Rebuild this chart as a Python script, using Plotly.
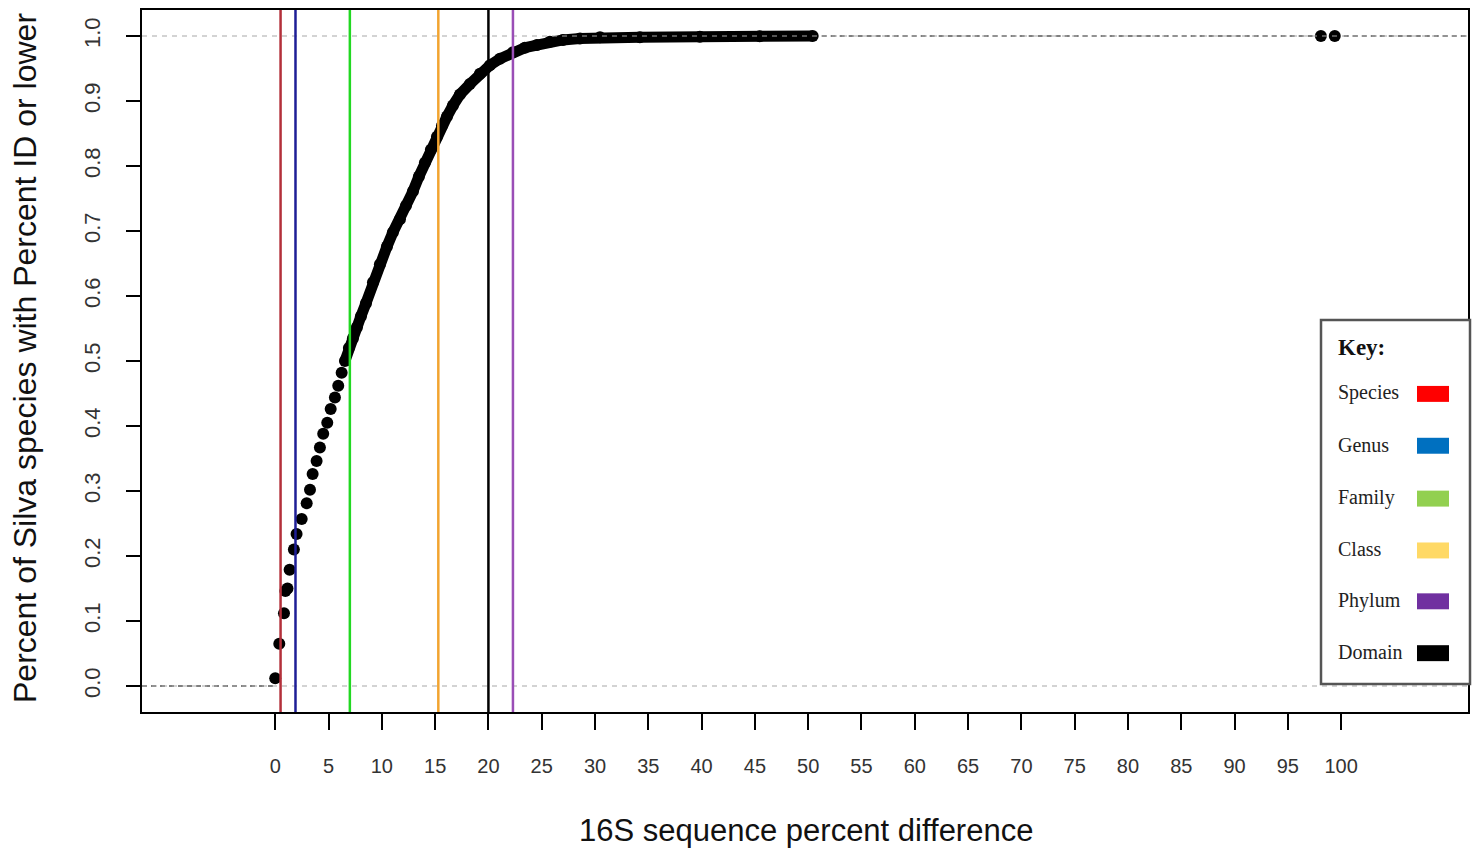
import plotly.graph_objects as go

# ---------------- data ----------------
# discrete ECDF points (individually visible)
x_steps = [0.0, 0.38, 0.82, 0.95, 1.15, 1.35, 1.75, 2.0, 2.48, 2.95, 3.26, 3.51,
           3.88, 4.19, 4.50, 4.88, 5.20, 5.60, 5.91, 6.23]
y_steps = [0.012, 0.065, 0.112, 0.146, 0.150, 0.179, 0.210, 0.234, 0.257, 0.281,
           0.302, 0.326, 0.346, 0.367, 0.388, 0.405, 0.426, 0.444, 0.462, 0.482]

# dense part of the ECDF (points overlap into a continuous band)
x_dense = [6.54, 6.91, 7.29, 7.66, 8.04, 8.51, 9.17, 9.82, 10.48, 11.04, 11.70,
           12.26, 12.92, 13.48, 14.04, 14.60, 15.17, 15.64, 16.11, 16.67, 17.33,
           18.26, 19.20, 20.14, 21.08, 22.30, 23.42, 24.55, 25.77, 26.99, 28.59,
           30.47, 34.21, 39.84, 45.45, 50.42]
y_dense = [0.500, 0.520, 0.535, 0.552, 0.569, 0.589, 0.621, 0.649, 0.676, 0.698,
           0.718, 0.739, 0.761, 0.784, 0.805, 0.825, 0.845, 0.862, 0.876, 0.893,
           0.910, 0.926, 0.942, 0.955, 0.965, 0.975, 0.982, 0.986, 0.991, 0.994,
           0.996, 0.998, 0.998, 0.999, 0.9995, 1.0]

# isolated points near 100
x_far = [98.1, 99.4]
y_far = [1.0, 1.0]

# threshold lines
line_x = [0.5, 1.9, 7.0, 15.3, 20.0, 22.3]
line_colors = ["#B3303A", "#1E1E96", "#22D822", "#F2A430", "#000000", "#9A4EB6"]

# key (legend image)
key_labels = ["Species", "Genus", "Family", "Class", "Phylum", "Domain"]
key_colors = ["#FF0000", "#0070C0", "#92D050", "#FFD966", "#7030A0", "#000000"]

x_ticks = list(range(0, 101, 5))
y_ticks = [0.0, 0.1, 0.2, 0.3, 0.4, 0.5, 0.6, 0.7, 0.8, 0.9, 1.0]
y_tick_text = ["0.0", "0.1", "0.2", "0.3", "0.4", "0.5", "0.6", "0.7", "0.8", "0.9", "1.0"]

X_RANGE = [-12.5, 111.9]
Y_RANGE = [-0.04, 1.04]

# ---------------- layout geometry (pixels) ----------------
W, H = 1481, 852
PL, PR, PT, PB = 142, 1468, 8, 712


def px(x):
    return (x - PL) / (PR - PL)


def py(y):
    return (PB - y) / (PB - PT)


fig = go.Figure()

# ECDF horizontal (dashed) tails
fig.add_trace(go.Scatter(x=[X_RANGE[0], x_steps[0]], y=[0, 0],
                         mode="lines", line=dict(color="black", width=1.2, dash="5px,4px"),
                         hoverinfo="skip", showlegend=False))
fig.add_trace(go.Scatter(x=[x_dense[-1], x_far[0], None, x_far[-1], X_RANGE[1]],
                         y=[y_dense[-1], y_far[0], None, y_far[-1], y_far[-1]],
                         mode="lines", line=dict(color="black", width=1.2, dash="5px,4px"),
                         hoverinfo="skip", showlegend=False))

# dense band
fig.add_trace(go.Scatter(x=x_dense, y=y_dense, mode="lines+markers",
                         line=dict(color="black", width=11),
                         marker=dict(color="black", size=12),
                         showlegend=False))
# discrete points
fig.add_trace(go.Scatter(x=x_steps, y=y_steps, mode="markers",
                         marker=dict(color="black", size=12), showlegend=False))
fig.add_trace(go.Scatter(x=x_far, y=y_far, mode="markers",
                         marker=dict(color="black", size=12), showlegend=False))

shapes = []
# gray reference lines at 0 and 1
for yv in (0, 1):
    shapes.append(dict(type="line", xref="paper", yref="y", x0=0, x1=1, y0=yv, y1=yv,
                       line=dict(color="#A8A8A8", width=1.2, dash="5px,5px"), layer="above"))
# vertical threshold lines
for xv, c in zip(line_x, line_colors):
    shapes.append(dict(type="line", xref="x", yref="paper", x0=xv, x1=xv, y0=0, y1=1,
                       line=dict(color=c, width=2.5), layer="above"))

# key box
shapes.append(dict(type="rect", xref="paper", yref="paper",
                   x0=px(1321), x1=px(1470), y0=py(684), y1=py(319),
                   line=dict(color="#555555", width=2.5), fillcolor="white", layer="above"))

key_y = [393, 445, 498, 550, 601, 653]
annotations = [dict(text="<b>Key:</b>", xref="paper", yref="paper", x=px(1336), y=py(346),
                    xanchor="left", yanchor="middle", showarrow=False,
                    font=dict(family="Liberation Serif", size=23, color="#111"))]
for lab, col, yc in zip(key_labels, key_colors, key_y):
    shapes.append(dict(type="rect", xref="paper", yref="paper",
                       x0=px(1417), x1=px(1449), y0=py(yc + 8), y1=py(yc - 8),
                       line=dict(width=0), fillcolor=col, layer="above"))
    annotations.append(dict(text=lab, xref="paper", yref="paper", x=px(1336), y=py(yc - 1),
                            xanchor="left", yanchor="middle", showarrow=False,
                            font=dict(family="Liberation Serif", size=20, color="#222")))

# axis titles
annotations.append(dict(text="16S sequence percent difference", xref="paper", yref="paper",
                        x=px(806), y=py(831), xanchor="center", yanchor="middle",
                        showarrow=False,
                        font=dict(family="Liberation Sans", size=31, color="#111")))
annotations.append(dict(text="Percent of Silva species with Percent ID or lower",
                        xref="paper", yref="paper", x=px(25), y=py(357), textangle=-90,
                        xanchor="center", yanchor="middle", showarrow=False,
                        font=dict(family="Liberation Sans", size=32, color="#111")))

fig.update_layout(
    width=W, height=H,
    margin=dict(l=PL, r=W - PR, t=PT, b=H - PB),
    paper_bgcolor="white", plot_bgcolor="white",
    shapes=shapes, annotations=annotations,
    showlegend=False,
    xaxis=dict(range=X_RANGE, tickmode="array", tickvals=x_ticks,
               ticks="outside", ticklen=16, tickwidth=1.5, tickcolor="black",
               showgrid=False, zeroline=False, showline=True, mirror=True,
               linecolor="black", linewidth=1.5, ticklabelstandoff=19,
               tickfont=dict(family="Liberation Sans", size=20, color="#333")),
    yaxis=dict(range=Y_RANGE, tickmode="array", tickvals=y_ticks, ticktext=y_tick_text,
               ticks="outside", ticklen=14, tickwidth=1.5, tickcolor="black",
               showgrid=False, zeroline=False, showline=True, mirror=True,
               linecolor="black", linewidth=1.5, tickangle=-90, ticklabelstandoff=17,
               tickfont=dict(family="Liberation Sans", size=22, color="#333")),
)

fig.write_html("out.html")
